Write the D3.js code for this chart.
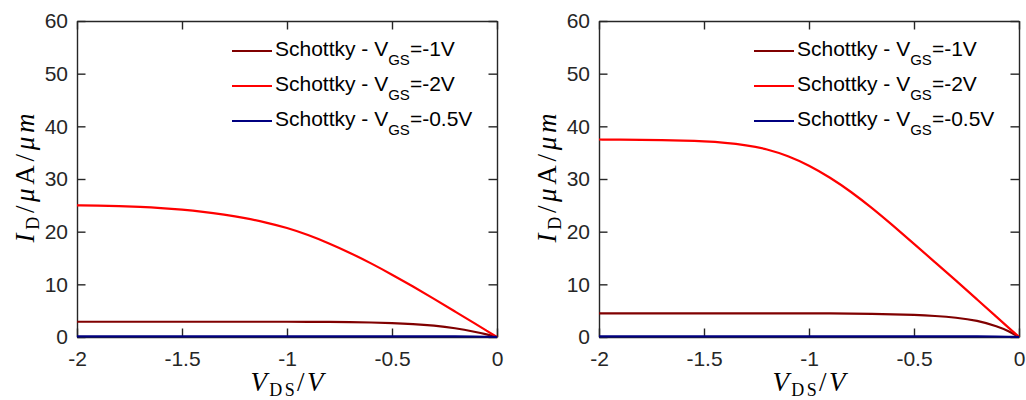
<!DOCTYPE html>
<html><head><meta charset="utf-8">
<script src="https://cdn.jsdelivr.net/npm/d3@7"></script>
<style>body{margin:0;background:#fff}svg{display:block}</style>
</head><body>
<svg id="c" width="1026" height="400"></svg>
<script>
const vds = [-2,-1.9,-1.8,-1.7,-1.6,-1.5,-1.4,-1.3,-1.2,-1.1,-1.0,-0.9,-0.8,-0.7,-0.6,-0.5,-0.4,-0.3,-0.2,-0.1,-0.05,0];
const leftVgs1  = [2.9,2.9,2.9,2.9,2.9,2.9,2.9,2.9,2.9,2.9,2.9,2.88,2.86,2.82,2.76,2.66,2.48,2.18,1.7,0.95,0.5,0];
const leftVgs2  = [25.0,24.95,24.85,24.7,24.5,24.2,23.8,23.25,22.6,21.75,20.75,19.4,17.8,16.0,14.0,11.85,9.6,7.25,4.85,2.42,1.21,0];
const leftVgs05 = [0.1,0.1,0.1,0.1,0.1,0.1,0.1,0.1,0.1,0.1,0.1,0.1,0.1,0.1,0.1,0.1,0.1,0.1,0.1,0.1,0.05,0];
const rightVgs1  = [4.5,4.5,4.5,4.5,4.5,4.5,4.5,4.5,4.5,4.5,4.5,4.48,4.45,4.4,4.32,4.2,4.0,3.7,3.15,2.0,1.15,0];
const rightVgs2  = [37.5,37.47,37.43,37.37,37.28,37.15,36.9,36.45,35.7,34.4,32.6,30.3,27.6,24.5,21.15,17.7,14.2,10.7,7.15,3.58,1.79,0];
const rightVgs05 = [0.1,0.1,0.1,0.1,0.1,0.1,0.1,0.1,0.1,0.1,0.1,0.1,0.1,0.1,0.1,0.1,0.1,0.1,0.1,0.1,0.05,0];
const seriesNames = ["Schottky - V|GS|=-1V","Schottky - V|GS|=-2V","Schottky - V|GS|=-0.5V"];
const seriesColors = ["#800000","#ff0000","#000080"];
const xTicks = [-2,-1.5,-1,-0.5,0];
const xTickLabels = ["-2","-1.5","-1","-0.5","0"];
const yTicks = [0,10,20,30,40,50,60];
const yTickLabels = ["0","10","20","30","40","50","60"];

const svg = d3.select("#c");
const axisColor = "#262626";
const panels = [
  {x0:77, x1:497, data:[leftVgs1,leftVgs2,leftVgs05]},
  {x0:599, x1:1019, data:[rightVgs1,rightVgs2,rightVgs05]}
];
const yTop = 21, yBot = 337;

panels.forEach(p => {
  const g = svg.append("g");
  const x = d3.scaleLinear().domain([-2,0]).range([p.x0,p.x1]);
  const y = d3.scaleLinear().domain([0,60]).range([yBot,yTop]);
  const tl = 8.5;
  const ax = [
    d3.axisBottom(x).tickValues(xTicks).tickFormat((d,i)=>xTickLabels[i]).tickSizeInner(-tl).tickSizeOuter(0).tickPadding(14),
    d3.axisTop(x).tickValues(xTicks).tickFormat("").tickSizeInner(-tl).tickSizeOuter(0),
    d3.axisLeft(y).tickValues(yTicks).tickFormat((d,i)=>yTickLabels[i]).tickSizeInner(-tl).tickSizeOuter(0).tickPadding(9),
    d3.axisRight(y).tickValues(yTicks).tickFormat("").tickSizeInner(-tl).tickSizeOuter(0)
  ];
  const pos = [[0,yBot],[0,yTop],[p.x0,0],[p.x1,0]];
  ax.forEach((a,i)=>{
    const ag = g.append("g").attr("transform",`translate(${pos[i][0]},${pos[i][1]})`).call(a);
    ag.selectAll("path,line").attr("stroke",axisColor).attr("stroke-width",1.4);
    ag.selectAll("text").attr("fill",axisColor).style("font-family","'Liberation Sans',Arial,sans-serif").style("font-size","21px");
  });
  const line = d3.line().x((d,i)=>x(vds[i])).y(d=>y(d)).curve(d3.curveBasis);
  p.data.forEach((s,k)=>{
    g.append("path").datum(s).attr("d",line).attr("fill","none")
      .attr("stroke",seriesColors[k]).attr("stroke-width",2.2);
  });
  seriesNames.forEach((nm,k)=>{
    const ly = 51 + k*35;
    const lx = p.x0 + 155;
    g.append("line").attr("x1",lx).attr("x2",lx+40).attr("y1",ly).attr("y2",ly)
      .attr("stroke",seriesColors[k]).attr("stroke-width",2.2);
    const parts = nm.split("|");
    const t = g.append("text").attr("x",lx+43).attr("y",ly+5)
      .style("font-family","'Liberation Sans',Arial,sans-serif").style("font-size","21px").attr("fill","#000");
    t.append("tspan").text(parts[0]);
    t.append("tspan").attr("dy",9).style("font-size","15px").text(parts[1]);
    t.append("tspan").attr("dy",-9).text(parts[2]);
  });
  const xl = g.append("text").attr("x",(p.x0+p.x1)/2).attr("y",391).attr("text-anchor","middle")
    .attr("textLength",73).attr("lengthAdjust","spacing")
    .style("font-family","'Liberation Serif','Times New Roman',serif").style("font-size","27px").attr("fill","#000");
  xl.append("tspan").style("font-style","italic").text("V");
  xl.append("tspan").attr("dy",5).style("font-size","18px").text("DS");
  xl.append("tspan").attr("dy",-5).text("/");
  xl.append("tspan").style("font-style","italic").text("V");
  const ylx = p.x0 - 43, yly = 178;
  const yl = g.append("text").attr("transform",`translate(${ylx},${yly}) rotate(-90)`).attr("text-anchor","middle")
    .attr("textLength",129).attr("lengthAdjust","spacing")
    .style("font-family","'Liberation Serif','Times New Roman',serif").style("font-size","27px").attr("fill","#000");
  yl.append("tspan").style("font-style","italic").text("I");
  yl.append("tspan").attr("dy",5).style("font-size","18px").text("D");
  yl.append("tspan").attr("dy",-5).text("/");
  yl.append("tspan").style("font-style","italic").text("μ");
  yl.append("tspan").text("A/");
  yl.append("tspan").style("font-style","italic").text("μm");
});
</script>
</body></html>
